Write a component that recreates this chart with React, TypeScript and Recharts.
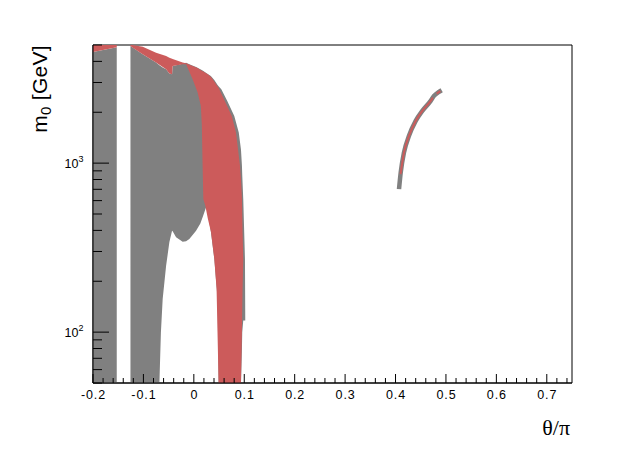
import React from "react";
import {
  ComposedChart,
  Area,
  Line,
  XAxis,
  YAxis,
  ReferenceArea,
} from "recharts";

// plot frame (pixels) - ROOT style canvas
const PLOT_LEFT = 93;
const PLOT_TOP = 45;
const PLOT_RIGHT = 572;
const PLOT_BOTTOM = 383;

const GRAY = "#808080";
const RED = "#cc5b5b";
const SANS = "Liberation Sans, Arial, sans-serif";

// axis ticks
const X_MAJOR = [-0.2, -0.1, 0, 0.1, 0.2, 0.3, 0.4, 0.5, 0.6, 0.7];
const X_LABELS = ["-0.2", "-0.1", "0", "0.1", "0.2", "0.3", "0.4", "0.5", "0.6", "0.7"];
const X_TICKS: number[] = [];
for (let i = 0; i < 48; i++) X_TICKS.push(Math.round((-0.2 + i * 0.02) * 100) / 100);

const Y_TICKS = [50, 60, 70, 80, 90, 100, 200, 300, 400, 500, 600, 700, 800, 900, 1000, 2000, 3000, 4000, 5000];
const Y_MAJOR = [100, 1000];
const Y_EXPONENTS = ["2", "3"];

// left gray band (theta/pi ~ -0.2 .. -0.15) with red cap at the top
const LEFT_BAND_X = [-0.2, -0.1529];
const LEFT_BAND_LOW = [50, 50];
const LEFT_BAND_HIGH = [4540, 4842];
const LEFT_CAP_HIGH = [5000, 5000];

// middle gray region
const MID_GRAY_X = [-0.1257, -0.1014, -0.0749, -0.0683, -0.0653, -0.0618, -0.055, -0.0485, -0.0432, -0.042, -0.0352, -0.0222, -0.0154, -0.0089, 0.0044, 0.0129, 0.0174, 0.0253, 0.0337, 0.0406, 0.0471, 0.0491, 0.0545, 0.0663, 0.0802, 0.0891, 0.0935, 0.0954, 0.096, 0.098, 0.1014, 0.102];
const MID_GRAY_HIGH = [4933, 4403, 3933, 3800, 3740, 3680, 3592, 3388, 3357, 3757, 3800, 3870, 3930, 3850, 3700, 3592, 3530, 3400, 3282, 3100, 2900, 2850, 2736, 2335, 1901, 1517, 1200, 964, 850, 613, 271, 117];
const MID_GRAY_LOW = [50, 50, 50, 50, 100, 157, 247, 341, 398, 395, 364, 343, 345, 356, 398, 440, 478, 559, 395, 271, 157, 50, 50, 50, 50, 50, 50, 80, 100, 117, 117, 117];

// red region (top cap + main band)
const RED_X = [-0.1257, -0.1218, -0.1014, -0.0749, -0.055, -0.0485, -0.0432, -0.042, -0.0222, -0.0154, -0.0024, 0.0075, 0.0139, 0.0158, 0.0174, 0.0188, 0.0228, 0.0277, 0.0341, 0.0406, 0.0451, 0.0491, 0.0505, 0.0614, 0.0752, 0.0836, 0.0915, 0.0935, 0.0954, 0.0966, 0.098];
const RED_HIGH = [5000, 5000, 4887, 4506, 4300, 4209, 4150, 4130, 3933, 3897, 3750, 3650, 3550, 3520, 3500, 3480, 3430, 3360, 3230, 3040, 2900, 2790, 2736, 2335, 1901, 1517, 964, 800, 613, 390, 271];
const RED_LOW = [4933, 4830, 4403, 3933, 3592, 3388, 3357, 3757, 3850, 3846, 3135, 2617, 2180, 1700, 964, 613, 559, 470, 390, 271, 180, 50, 50, 50, 50, 50, 50, 50, 105, 180, 271];

// thin arc near theta/pi ~ 0.4 - 0.5
const ARC_X = [0.4069, 0.4103, 0.4168, 0.4267, 0.44, 0.4531, 0.4697, 0.4762, 0.4861, 0.4915];
const ARC_Y = [702, 881, 1157, 1450, 1777, 2037, 2335, 2498, 2637, 2698];
const ARC_RED_X = [0.41, 0.4168, 0.4267, 0.44, 0.4531, 0.4697, 0.474];
const ARC_RED_Y = [860, 1157, 1450, 1777, 2037, 2335, 2440];
const ARC_RED_TOP_X = [0.4815, 0.489];
const ARC_RED_TOP_Y = [2580, 2670];

const toRange = (xs: number[], lo: number[], hi: number[]) =>
  xs.map((x, i) => ({ x, r: [lo[i], hi[i]] }));
const toLine = (xs: number[], ys: number[]) => xs.map((x, i) => ({ x, y: ys[i] }));

const leftBand = toRange(LEFT_BAND_X, LEFT_BAND_LOW, LEFT_BAND_HIGH);
const leftCap = toRange(LEFT_BAND_X, LEFT_BAND_HIGH, LEFT_CAP_HIGH);
const midGray = toRange(MID_GRAY_X, MID_GRAY_LOW, MID_GRAY_HIGH);
const redBand = toRange(RED_X, RED_LOW, RED_HIGH);
const arc = toLine(ARC_X, ARC_Y);
const arcRed = toLine(ARC_RED_X, ARC_RED_Y);
const arcRedTop = toLine(ARC_RED_TOP_X, ARC_RED_TOP_Y);

const renderXTick = (props: any) => {
  const { x, payload } = props;
  const v = payload.value;
  const idx = X_MAJOR.findIndex((m) => Math.abs(m - v) < 1e-6);
  const major = idx >= 0;
  return (
    <g>
      <line x1={x} x2={x} y1={PLOT_BOTTOM} y2={PLOT_BOTTOM - (major ? 9 : 5)} stroke="#000" />
      {major && (
        <text x={x + 0.5} y={399} textAnchor="middle" fontFamily={SANS} fontSize={12.5} letterSpacing={0.9} fill="#000">
          {X_LABELS[idx]}
        </text>
      )}
    </g>
  );
};

const renderYTick = (props: any) => {
  const { y, payload } = props;
  const idx = Y_MAJOR.indexOf(payload.value);
  const major = idx >= 0;
  return (
    <g>
      <line x1={PLOT_LEFT} x2={PLOT_LEFT + (major ? 16 : 9)} y1={y} y2={y} stroke="#000" />
      {major && (
        <text x={83.5} y={y + 4.8} textAnchor="end" fontFamily={SANS} fontSize={12.5} fill="#000">
          10
          <tspan dy={-6} fontSize={9}>{Y_EXPONENTS[idx]}</tspan>
        </text>
      )}
    </g>
  );
};

const XTitle = () => (
  <text x={570} y={435} textAnchor="end" fontFamily="Liberation Serif, Times New Roman, serif" fontSize={22} fill="#000">
    θ/π
  </text>
);

const YTitle = () => (
  <text
    x={47}
    y={45}
    transform="rotate(-90 47 45)"
    textAnchor="end"
    fontFamily={SANS}
    fontSize={21}
    letterSpacing={0.3}
    fill="#000"
  >
    m
    <tspan dy={4} fontSize={15}>0</tspan>
    <tspan dy={-4}> [GeV]</tspan>
  </text>
);

export default function App() {
  return (
    <div style={{ position: "absolute", left: 0, top: 0, background: "#fff" }}>
      <ComposedChart
        width={636}
        height={452}
        margin={{ top: PLOT_TOP, right: 636 - PLOT_RIGHT, bottom: 0, left: 0 }}
      >
        <XAxis
          dataKey="x"
          type="number"
          domain={[-0.2, 0.75]}
          allowDataOverflow
          ticks={X_TICKS}
          interval={0}
          height={452 - PLOT_BOTTOM}
          tickLine={false}
          axisLine={{ stroke: "#000" }}
          tick={renderXTick}
          label={<XTitle />}
        />
        <YAxis
          type="number"
          scale="log"
          domain={[50, 5000]}
          allowDataOverflow
          ticks={Y_TICKS}
          interval={0}
          width={PLOT_LEFT}
          tickLine={false}
          axisLine={{ stroke: "#000" }}
          tick={renderYTick}
          label={<YTitle />}
        />
        <ReferenceArea x1={-0.2} x2={0.75} y1={50} y2={5000} fill="none" stroke="#000" strokeWidth={1} />
        <Area data={leftBand} dataKey="r" type="linear" fill={GRAY} fillOpacity={1} stroke="none" dot={false} activeDot={false} isAnimationActive={false} />
        <Area data={midGray} dataKey="r" type="linear" fill={GRAY} fillOpacity={1} stroke="none" dot={false} activeDot={false} isAnimationActive={false} />
        <Area data={leftCap} dataKey="r" type="linear" fill={RED} fillOpacity={1} stroke="none" dot={false} activeDot={false} isAnimationActive={false} />
        <Area data={redBand} dataKey="r" type="linear" fill={RED} fillOpacity={1} stroke="none" dot={false} activeDot={false} isAnimationActive={false} />
        <Line data={arc} dataKey="y" type="monotone" stroke={GRAY} strokeWidth={4.5} dot={false} activeDot={false} isAnimationActive={false} />
        <Line data={arcRed} dataKey="y" type="monotone" stroke={RED} strokeWidth={2} dot={false} activeDot={false} isAnimationActive={false} />
        <Line data={arcRedTop} dataKey="y" type="monotone" stroke={RED} strokeWidth={2} dot={false} activeDot={false} isAnimationActive={false} />
      </ComposedChart>
    </div>
  );
}
